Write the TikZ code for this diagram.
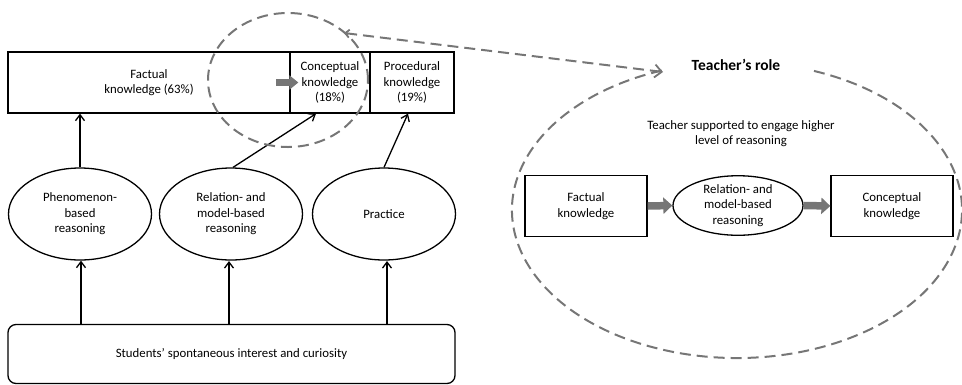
\documentclass[tikz,border=0pt]{standalone}
\usepackage{fontspec}
\setmainfont{Carlito}
\usetikzlibrary{shapes.geometric,arrows.meta}
\definecolor{dgray}{RGB}{118,118,118}
\begin{document}
\begin{tikzpicture}[x=1pt,y=-1pt,
  txt/.style={font=\fontsize{12.8}{15.5}\selectfont, align=center, inner sep=0pt},
  cell/.style={draw, line width=1.3pt, minimum height=61pt, inner sep=0pt, txt},
  bubble/.style={draw, ellipse, line width=1.3pt, txt},
  conn/.style={line width=1.3pt, -{Straight Barb[length=6pt,width=9pt,line width=1.3pt]}},
  block/.style={draw=dgray, line width=7.5pt, -{Triangle[length=9pt,width=16pt]}, dgray},
  dashy/.style={draw=dgray, line width=2pt, dash pattern=on 11pt off 6pt}]
\useasboundingbox (0,0) rectangle (962,384);
% top bar
\node[cell, minimum width=282pt] (fact) at (149,82.5) {Factual\\knowledge (63\%)};
\node[cell, minimum width=80pt] (conc) at (330,82.5) {Conceptual\\knowledge\\(18\%)};
\node[cell, minimum width=84pt] (proc) at (412,82.5) {Procedural\\knowledge\\(19\%)};
% reasoning ellipses
\node[bubble, minimum width=143pt, minimum height=92pt] (phen) at (80,214) {Phenomenon-\\based\\reasoning};
\node[bubble, minimum width=143pt, minimum height=92pt] (rel) at (231,214) {Relation- and\\model-based\\reasoning};
\node[bubble, minimum width=143pt, minimum height=92pt] (prac) at (384,214) {Practice};
% bottom box
\node[draw, line width=1.3pt, rounded corners=8pt, minimum width=447pt, minimum height=59pt, txt] (stud) at (231.5,354) {Students' spontaneous interest and curiosity};
% arrows from bottom box
\draw[conn] (stud.north -| 81,0) -- (phen.south -| 81,0);
\draw[conn] (stud.north -| 229,0) -- (229,261);
\draw[conn] (stud.north -| 387,0) -- (387,261);
% arrows to top bar
\draw[conn] (phen.north) -- (phen.north |- fact.south);
\draw[conn] ([xshift=2pt]rel.north) -- ([xshift=-14pt]conc.south);
\draw[conn] (prac.north) -- ([xshift=-4pt]proc.south);
% gray block arrow inside bar
\coordinate (ga) at (276,82.5);
\draw[block, line width=7pt, -{Triangle[length=9pt,width=14pt]}] (ga) -- ([xshift=9pt]conc.west);
% small dashed circle
\node[ellipse, dashy, minimum width=160pt, minimum height=134pt] (zoomc) at (288,80) {};
% big dashed ellipse with gap at top
\coordinate (bigc) at (737,210);
\draw[dashy] (bigc) ++(290:225 and 148) arc[start angle=290, end angle=611, x radius=225, y radius=148];
\coordinate (tail) at (344,33);
\coordinate (tip) at (663,72);
\draw[dashy, {Straight Barb[length=4pt,width=8pt,line width=1.8pt]}-{Straight Barb[length=7pt,width=13pt,line width=1.8pt]}] (tail) -- (tip);
\node[font=\bfseries\fontsize{15.5}{18}\selectfont, inner sep=0pt] (role) at (736,65) {Teacher's role};
\node[txt] (sup) at (741,133.5) {Teacher supported to engage higher\\level of reasoning};
% right flow
\node[cell, minimum width=122pt] (rfact) at (586,206) {Factual\\knowledge};
\node[bubble, minimum width=130pt, minimum height=59pt] (rrel) at (738,205.5) {Relation- and\\model-based\\reasoning};
\node[cell, minimum width=122pt] (rconc) at (892,206) {Conceptual\\knowledge};
\draw[block] (rfact.east) -- (rrel.west);
\draw[block] (rrel.east) -- (rconc.west);
\end{tikzpicture}
\end{document}
